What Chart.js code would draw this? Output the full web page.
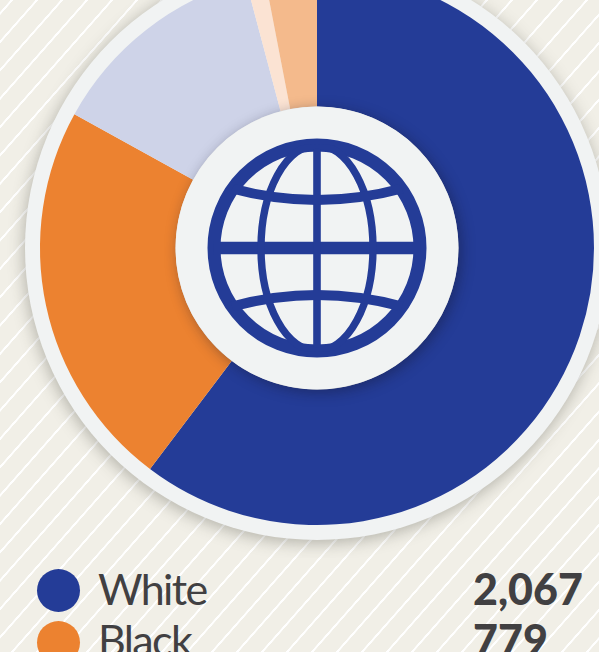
<!DOCTYPE html>
<html><head><meta charset="utf-8">
<script src="https://cdn.jsdelivr.net/npm/chart.js@4"></script>
<style>
html,body{margin:0;padding:0;width:599px;height:652px;overflow:hidden}
body{position:relative;background-color:#f1efe7;
background-image:repeating-linear-gradient(131.4deg,transparent 0,transparent 7.8px,#ffffff 8.2px,#ffffff 9.8px,transparent 10.2px,transparent 18.75px)}
#c{position:absolute;left:7px;top:-62px}
.t{position:absolute;font-family:Lato,sans-serif;color:#414042;font-size:43px;line-height:48px;white-space:nowrap}
.n{font-weight:900;left:473px;letter-spacing:0}
.l{left:98px;font-weight:400;letter-spacing:-1.6px}
.d{position:absolute;left:37px;width:43px;height:43px;border-radius:50%}
</style></head><body>
<canvas id="c" width="620" height="620"></canvas>
<div id="legend"></div>
<script>
const categories=["White","Black","Other race","Two or more","Hispanic"];
const values=[2067,779,440,38,104];
const colors=["#243c97","#ec8230","#ced3e8","#fbe3d3","#f4ba8c"];
const legendRows=[0,1];
const textTops=[565,616];
const dotTops=[569,621];

const leg=document.getElementById('legend');
legendRows.forEach((i,r)=>{
  leg.insertAdjacentHTML('beforeend',
   `<div class="d" style="top:${dotTops[r]}px;background:${colors[i]}"></div>`+
   `<div class="t l" style="top:${textTops[r]}px">${categories[i]}</div>`+
   `<div class="t n" style="top:${textTops[r]}px">${values[i].toLocaleString('en-US')}</div>`);
});

function globe(ctx,x,y){
  const blue=colors[0];
  ctx.save();
  ctx.strokeStyle=blue;
  ctx.beginPath();ctx.arc(x,y,103,0,Math.PI*2);ctx.lineWidth=13;ctx.stroke();
  ctx.beginPath();ctx.arc(x,y,104,0,Math.PI*2);ctx.clip();
  ctx.lineWidth=12.6;ctx.beginPath();ctx.moveTo(x-110,y);ctx.lineTo(x+110,y);ctx.stroke();
  ctx.lineWidth=7.6;ctx.beginPath();ctx.moveTo(x,y-110);ctx.lineTo(x,y+110);ctx.stroke();
  ctx.lineWidth=7.4;ctx.beginPath();ctx.ellipse(x,y,56,103,0,0,Math.PI*2);ctx.stroke();
  ctx.lineWidth=10;
  ctx.beginPath();ctx.moveTo(x-85,y-59.5);ctx.quadraticCurveTo(x,y-36.5,x+85,y-59.5);ctx.stroke();
  ctx.beginPath();ctx.moveTo(x-85,y+58.5);ctx.quadraticCurveTo(x,y+35.5,x+85,y+58.5);ctx.stroke();
  ctx.restore();
}

const decor={
  id:'decor',
  beforeDatasetsDraw(chart){
    const a=chart.getDatasetMeta(0).data[0],ctx=chart.ctx;
    ctx.save();
    ctx.shadowColor='rgba(60,60,50,0.35)';ctx.shadowBlur=16;ctx.shadowOffsetY=3;ctx.shadowOffsetX=-1;
    ctx.fillStyle='#f1f3f3';
    ctx.beginPath();ctx.arc(a.x,a.y,a.outerRadius+15,0,Math.PI*2);ctx.fill();
    ctx.restore();
  },
  afterDatasetsDraw(chart){
    const a=chart.getDatasetMeta(0).data[0],ctx=chart.ctx;
    ctx.save();
    ctx.shadowColor='rgba(20,20,40,0.4)';ctx.shadowBlur=14;ctx.shadowOffsetX=3;ctx.shadowOffsetY=3;
    ctx.fillStyle='#f1f3f3';
    ctx.beginPath();ctx.arc(a.x,a.y,a.innerRadius,0,Math.PI*2);ctx.fill();
    ctx.restore();
    globe(ctx,a.x,a.y);
  }
};

new Chart(document.getElementById('c'),{
  type:'doughnut',
  data:{labels:categories,datasets:[{data:values,backgroundColor:colors,borderWidth:0,hoverOffset:0}]},
  options:{responsive:false,animation:false,cutout:141.5,rotation:0,
    layout:{padding:33},
    plugins:{legend:{display:false},tooltip:{enabled:false},title:{display:false}}},
  plugins:[decor]
});
</script></body></html>
